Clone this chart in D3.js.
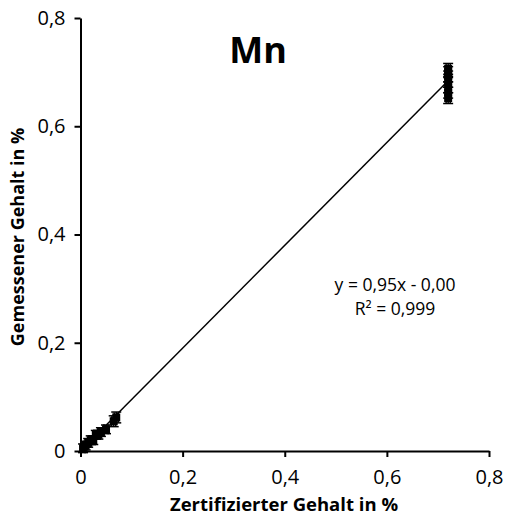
<!DOCTYPE html>
<html><head><meta charset="utf-8">
<script src="https://cdn.jsdelivr.net/npm/d3@7"></script>
<style>body{margin:0;background:#fff}svg{display:block}text{font-family:"Open Sans",sans-serif}</style>
</head><body>
<script>
const certified = [0.005,0.01,0.015,0.02,0.025,0.03,0.035,0.04,0.05,0.065,0.07,0.72,0.72,0.72,0.72,0.72,0.72,0.72];
const measured  = [0.005,0.01,0.015,0.02,0.02,0.03,0.03,0.035,0.04,0.055,0.062,0.652,0.662,0.672,0.682,0.692,0.700,0.706];
const xErr = [0.004,0.004,0.004,0.004,0.004,0.004,0.004,0.004,0.004,0.004,0.004,0.004,0.004,0.004,0.004,0.004,0.004,0.004];
const yErr = [0.008,0.008,0.008,0.008,0.008,0.008,0.008,0.008,0.008,0.01,0.01,0.01,0.01,0.01,0.01,0.01,0.01,0.01];
const tickValues = [0,0.2,0.4,0.6,0.8];
const slope = 0.95, intercept = 0.0;
const title = "Mn";
const eqLines = ["y = 0,95x - 0,00","R² = 0,999"];

const W=505,H=522;
const svg=d3.select("body").append("svg").attr("width",W).attr("height",H);
const x=d3.scaleLinear().domain([0,0.8]).range([80.5,489]);
const y=d3.scaleLinear().domain([0,0.8]).range([451,18]);
const fmt=d=>d===0?"0":d3.format(".1f")(d).replace(".",",");

const xa=svg.append("g").attr("transform","translate(0,451)")
 .call(d3.axisBottom(x).tickValues(tickValues).tickSize(6).tickSizeOuter(0).tickFormat(fmt));
const ya=svg.append("g").attr("transform","translate(80.5,0)")
 .call(d3.axisLeft(y).tickValues(tickValues).tickSize(6).tickSizeOuter(0).tickFormat(fmt));
[xa,ya].forEach(g=>{g.selectAll("path,line").attr("stroke","#000").attr("stroke-width",2);
 g.selectAll("text").attr("font-size",20).attr("fill","#000").attr("font-family","Open Sans");});
xa.selectAll("text").attr("dy","1.2em");
ya.selectAll("text").attr("dx","-0.3em");

// trendline
svg.append("line").attr("x1",x(0)).attr("y1",y(intercept)).attr("x2",x(0.72)).attr("y2",y(slope*0.72+intercept))
 .attr("stroke","#000").attr("stroke-width",1.5);

const pts=certified.map((c,i)=>({x:c,y:measured[i],ex:xErr[i],ey:yErr[i]}));
const g=svg.append("g");
const cap=5, sw=1.5;
pts.forEach(p=>{
 const cx=x(p.x),cy=y(p.y);
 const y1=y(p.y-p.ey),y2=y(p.y+p.ey),x1=x(p.x-p.ex),x2=x(p.x+p.ex);
 const L=(a,b,c,d)=>g.append("line").attr("x1",a).attr("y1",b).attr("x2",c).attr("y2",d).attr("stroke","#000").attr("stroke-width",sw);
 L(cx,y1,cx,y2); L(cx-cap,y1,cx+cap,y1); L(cx-cap,y2,cx+cap,y2);
 L(x1,cy,x2,cy); L(x1,cy-cap,x1,cy+cap); L(x2,cy-cap,x2,cy+cap);
 g.append("rect").attr("x",cx-4).attr("y",cy-4).attr("width",8).attr("height",8).attr("fill","#000");
});

svg.append("text").attr("x",258).attr("y",63).attr("text-anchor","middle").attr("font-size",36).attr("font-weight","bold").text(title);
svg.append("text").attr("x",395).attr("y",291).attr("text-anchor","middle").attr("font-size",17.5).text(eqLines[0]);
svg.append("text").attr("x",395).attr("y",315).attr("text-anchor","middle").attr("font-size",17.5).text(eqLines[1]);
svg.append("text").attr("x",284).attr("y",511).attr("text-anchor","middle").attr("font-size",18.5).attr("font-weight","bold").text("Zertifizierter Gehalt in %");
svg.append("text").attr("transform","translate(24,237) rotate(-90)").attr("text-anchor","middle").attr("font-size",18).attr("font-weight","bold").text("Gemessener Gehalt in %");
</script>
</body></html>
